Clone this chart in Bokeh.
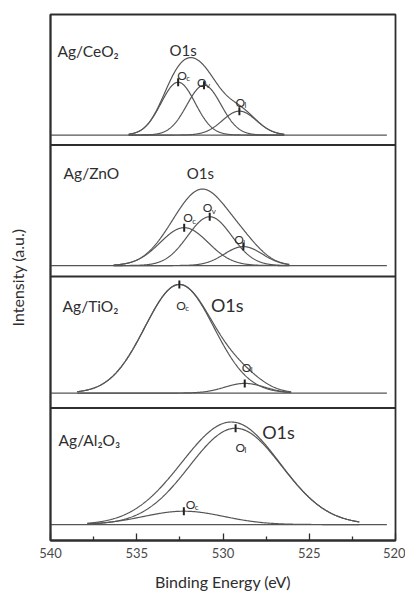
import numpy as np
from bokeh.plotting import figure
from bokeh.models import Range1d, FixedTicker, Span, ColumnDataSource
from bokeh.core.properties import value
from bokeh.embed import file_html
from bokeh.resources import INLINE

# ---------------- data ----------------
panel_names = ["Ag/CeO\u2082", "Ag/ZnO", "Ag/TiO\u2082", "Ag/Al\u2082O\u2083"]
x_ticks = [540, 535, 530, 525, 520]
x_minor_ticks = [537.5, 532.5, 527.5, 522.5]

# fitted O1s components: subscript label, centre (eV), height (a.u.), FWHM (eV)
ceo2_labels = ["c", "v", "l"]
ceo2_centers = [532.6, 531.1, 529.05]
ceo2_heights = [53, 50, 24]
ceo2_fwhm = [2.33, 2.33, 2.33]

zno_labels = ["c", "v", "l"]
zno_centers = [532.25, 530.77, 528.82]
zno_heights = [38, 49, 19]
zno_fwhm = [3.28, 3.01, 2.60]

tio2_labels = ["c", "l"]
tio2_centers = [532.53, 528.74]
tio2_heights = [109, 9.7]
tio2_fwhm = [4.71, 2.74]

al2o3_labels = ["l", "c"]
al2o3_centers = [529.27, 532.27]
al2o3_heights = [96.7, 13.4]
al2o3_fwhm = [6.30, 5.48]

# fitting window of each spectrum (eV)
fit_start = [535.47, 536.34, 538.45, 537.87]
fit_end = [526.45, 526.16, 526.05, 522.10]
baseline_start = 540.0
baseline_end = 520.5

# ---------------- layout (positions / styles) ----------------
panel_offsets = [407, 276, 148, 16]          # vertical offset of each stacked spectrum
separators = [397, 265, 133]
name_pos_x = [539.6, 539.24, 539.3, 539.53]
name_pos_y = [491, 369, 235, 101]
o1s_pos_x = [533.1, 532.1, 530.7, 527.73]
o1s_pos_y = [492, 369, 236, 109]
o1s_size = ["15px", "15px", "18px", "18px"]
# pixel offsets of each "O" label from its peak marker
label_offsets = [
    [(-1, -7), (-7, -3), (-4, -9)],
    [(-1, -10), (-7, -9), (-9, -7)],
    [(-3, 21), (-3, -16)],
    [(0, 19), (2, -7)],
]

FONT = "Lato"
LINE = "#555555"
FRAME = "#2e2e2e"
TEXT = "#2e2e2e"

components = [
    (ceo2_labels, ceo2_centers, ceo2_heights, ceo2_fwhm),
    (zno_labels, zno_centers, zno_heights, zno_fwhm),
    (tio2_labels, tio2_centers, tio2_heights, tio2_fwhm),
    (al2o3_labels, al2o3_centers, al2o3_heights, al2o3_fwhm),
]

p = figure(width=405, height=593, x_range=Range1d(540, 520), y_range=Range1d(0, 528),
           output_backend="svg", toolbar_location=None,
           min_border_left=50, min_border_right=10, min_border_top=14, min_border_bottom=51)
p.xgrid.visible = False
p.ygrid.visible = False
p.background_fill_color = "white"
p.border_fill_color = "white"
p.outline_line_color = FRAME
p.outline_line_width = 1.8

xa = p.xaxis[0]
xa.ticker = FixedTicker(ticks=x_ticks, minor_ticks=x_minor_ticks)
xa.major_tick_in = 7
xa.major_tick_out = 0
xa.minor_tick_in = 4
xa.minor_tick_out = 0
xa.major_tick_line_color = FRAME
xa.minor_tick_line_color = FRAME
xa.major_tick_line_width = 1.3
xa.minor_tick_line_width = 1.3
xa.axis_line_color = FRAME
xa.axis_line_width = 1.8
xa.major_label_text_font = FONT
xa.major_label_text_font_size = "13px"
xa.major_label_text_line_height = 1.0
xa.major_label_text_color = "#4a4a4a"
xa.major_label_standoff = 7
xa.axis_label = "Binding Energy (eV)"
xa.axis_label_text_font = FONT
xa.axis_label_text_font_size = "16px"
xa.axis_label_text_line_height = 1.0
xa.axis_label_text_font_style = "normal"
xa.axis_label_text_color = TEXT
xa.axis_label_standoff = 11

ya = p.yaxis[0]
ya.ticker = FixedTicker(ticks=[])
ya.axis_line_color = FRAME
ya.axis_line_width = 1.8
ya.major_tick_line_color = None
ya.minor_tick_line_color = None
ya.axis_label = "Intensity (a.u.)"
ya.axis_label_text_font = FONT
ya.axis_label_text_font_size = "16px"
ya.axis_label_text_font_style = "normal"
ya.axis_label_text_color = TEXT
ya.axis_label_standoff = 24

for s in separators:
    p.add_layout(Span(location=s, dimension="width", line_color=FRAME, line_width=1.8))

def gauss(x, c, h, fwhm):
    sig = fwhm / 2.3548
    return h * np.exp(-(x - c) ** 2 / (2 * sig ** 2))

for i, (labs, cens, hts, fw) in enumerate(components):
    off = panel_offsets[i]
    # baseline
    p.line([baseline_start, baseline_end], [off, off], line_color=LINE, line_width=1.2)
    xs = np.linspace(fit_start[i], fit_end[i], 400)
    env = np.zeros_like(xs)
    for c, h, f in zip(cens, hts, fw):
        comp = gauss(xs, c, h, f)
        env += comp
        p.line(xs, comp + off, line_color=LINE, line_width=1.2)
    p.line(xs, env + off, line_color=LINE, line_width=1.2)
    # peak markers
    peak_y = [h + off for h in hts]
    p.scatter(x=list(cens), y=peak_y, marker="dash", angle=np.pi / 2, size=8,
              line_color="#222222", line_width=2)
    # component labels
    offs = label_offsets[i]
    src = ColumnDataSource(dict(
        x=list(cens), y=peak_y, t=["O"] * len(cens),
        dx=[o[0] for o in offs], dy=[o[1] for o in offs],
        sx=[o[0] + 9 for o in offs], sy=[o[1] + 3 for o in offs],
        sub=list(labs)))
    p.text(x="x", y="y", text="t", x_offset="dx", y_offset="dy", source=src,
           text_font=value(FONT), text_font_size=value("12px"), text_color=TEXT,
           text_align="left", text_baseline="alphabetic")
    p.text(x="x", y="y", text="sub", x_offset="sx", y_offset="sy", source=src,
           text_font=value(FONT), text_font_size=value("8px"), text_color=TEXT,
           text_align="left", text_baseline="alphabetic")
    # panel name and O1s
    p.text(x=[name_pos_x[i]], y=[name_pos_y[i]], text=[panel_names[i]],
           text_font=value(FONT), text_font_size=value("15.5px"), text_color=TEXT,
           text_align="left", text_baseline="alphabetic")
    p.text(x=[o1s_pos_x[i]], y=[o1s_pos_y[i]], text=["O1s"],
           text_font=value(FONT), text_font_size=value(o1s_size[i]), text_color=TEXT,
           text_align="left", text_baseline="alphabetic")

open("out.html", "w").write(file_html(p, INLINE))
